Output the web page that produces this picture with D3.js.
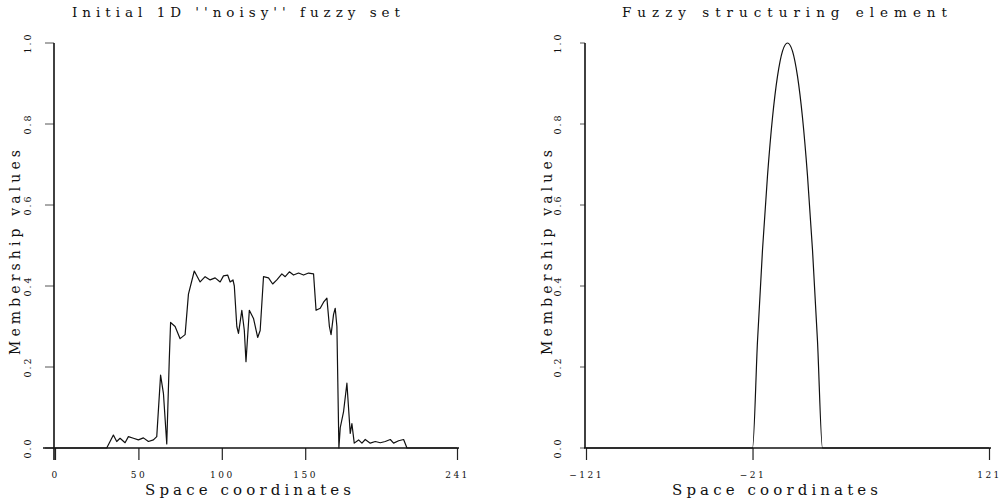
<!DOCTYPE html>
<html>
<head>
<meta charset="utf-8">
<script src="https://cdn.jsdelivr.net/npm/d3@7/dist/d3.min.js"></script>
<style>
  html, body { margin: 0; padding: 0; background: #fff; }
  svg { display: block; }
  text { font-family: "DejaVu Serif", "Liberation Serif", serif; fill: #111; }
</style>
</head>
<body>
<svg id="chart" width="1002" height="503"></svg>
<script>
// ---------------- DATA ----------------
const noisyX = [0,31,35,37,39,42,44,47,50,53,56,59,61,63.3,65,67,68.5,69.3,72,75,78,80,83.5,87,90,93,96,99,101,103.5,105,106.7,107.5,109,110,112,113.5,114.5,116.5,119,121.5,123,125,128,130.5,133,136,138,140.5,143,146,149,152,155,156.5,159,161,163,164.5,165.5,167,168,169,170.2,171,173,175,177,178,179.4,182,184,186,189,192,195,198,201,203,206,209,211,241];
const noisyY = [0,0,0.032,0.016,0.024,0.013,0.028,0.024,0.02,0.025,0.016,0.02,0.028,0.18,0.135,0.01,0.217,0.31,0.30,0.27,0.28,0.38,0.437,0.41,0.423,0.415,0.42,0.41,0.425,0.427,0.41,0.415,0.40,0.30,0.283,0.34,0.29,0.213,0.34,0.32,0.273,0.29,0.423,0.42,0.405,0.415,0.43,0.423,0.435,0.427,0.432,0.427,0.432,0.43,0.34,0.345,0.36,0.37,0.30,0.28,0.33,0.345,0.30,0.0,0.05,0.09,0.16,0.036,0.06,0.012,0.02,0.012,0.021,0.012,0.016,0.013,0.016,0.021,0.012,0.018,0.021,0,0];

const seX = [-121,-21,-18,-15,-12,-9,-6,-3,0,3,6,9,12,15,18,21,121];
const seY = [0,0,0.265,0.49,0.673,0.816,0.918,0.98,1,0.98,0.918,0.816,0.673,0.49,0.265,0,0];

const yTicks = [0.0,0.2,0.4,0.6,0.8,1.0];
const yTickLabels = ["0.0","0.2","0.4","0.6","0.8","1.0"];
const xTicksLeft = [0,50,100,150,241];
const xTicksRight = [-121,-21,121];

const titleLeft = "Initial 1D ''noisy'' fuzzy set";
const titleRight = "Fuzzy structuring element";
const xLabel = "Space coordinates";
const yLabel = "Membership values";

// ---------------- DRAW ----------------
const svg = d3.select("#chart");
const y = d3.scaleLinear().domain([0,1]).range([448,43]);

function panel(opts) {
  const g = svg.append("g");
  const x = opts.x;
  const [x0, x1] = x.range();

  // title
  g.append("text")
    .attr("x", opts.titleX).attr("y", 17)
    .attr("font-size", 13.5)
    .attr("textLength", opts.titleLen).attr("lengthAdjust", "spacing")
    .text(opts.title);

  // y axis label
  g.append("text")
    .attr("transform", `translate(${opts.yLabX},${355}) rotate(-90)`)
    .attr("font-size", 14)
    .attr("textLength", 205).attr("lengthAdjust", "spacing")
    .text(yLabel);

  // x axis label
  g.append("text")
    .attr("x", opts.xLabX).attr("y", 495)
    .attr("font-size", 15)
    .attr("textLength", 206).attr("lengthAdjust", "spacing")
    .text(xLabel);

  // y tick marks
  g.selectAll(".yt").data(yTicks).join("line")
    .attr("x1", x0 - 1).attr("x2", x0 - opts.yTickLen)
    .attr("y1", d => y(d)).attr("y2", d => y(d))
    .attr("stroke", "#555").attr("stroke-width", 1);

  // y tick labels (rotated)
  g.selectAll(".ytl").data(yTicks).join("text")
    .attr("transform", d => `translate(${opts.yTickLabX},${y(d)}) rotate(-90)`)
    .attr("text-anchor", "middle")
    .attr("font-size", 9.5)
    .attr("letter-spacing", 2)
    .text((d,i) => yTickLabels[i]);

  // x ticks
  const xAxis = d3.axisBottom(x).tickValues(opts.xTicks).tickSize(12).tickPadding(12).tickFormat(d3.format("d"));
  const ax = g.append("g").attr("transform", "translate(0,448)").call(xAxis);
  ax.select(".domain").remove();
  ax.selectAll(".tick line").attr("stroke", "#222").attr("stroke-width", 1.2);
  ax.selectAll(".tick text").attr("font-size", 9).attr("letter-spacing", 2.5)
    .attr("font-family", "DejaVu Serif, serif").attr("fill", "#111");

  // axis lines
  g.append("line").attr("x1", x0 - 1).attr("x2", x0 - 1).attr("y1", y(1)).attr("y2", y(0) + opts.yAxisExt)
    .attr("stroke", "#111").attr("stroke-width", 1.6);
  g.append("line").attr("x1", x0 - opts.xAxisExtL).attr("x2", x1 + 2).attr("y1", y(0)).attr("y2", y(0))
    .attr("stroke", "#111").attr("stroke-width", 1.6);

  // data line
  const line = d3.line().x(d => x(d[0])).y(d => y(d[1])).curve(opts.curve);
  g.append("path")
    .datum(opts.xs.map((v,i) => [v, opts.ys[i]]))
    .attr("d", line)
    .attr("fill", "none").attr("stroke", "#111").attr("stroke-width", 1.2)
    .attr("stroke-linejoin", "round");
}

panel({
  x: d3.scaleLinear().domain([0,241]).range([55,457]),
  title: titleLeft, titleX: 72, titleLen: 328,
  yLabX: 20, xLabX: 145, yTickLabX: 31,
  yTickLen: 10, yAxisExt: 12, xAxisExtL: 12,
  xTicks: xTicksLeft, xs: noisyX, ys: noisyY, curve: d3.curveLinear
});

panel({
  x: d3.scaleLinear().domain([-121,121]).range([586,989]),
  title: titleRight, titleX: 622, titleLen: 325,
  yLabX: 552, xLabX: 672, yTickLabX: 561,
  yTickLen: 6, yAxisExt: 0, xAxisExtL: 2,
  xTicks: xTicksRight, xs: seX, ys: seY, curve: d3.curveMonotoneX
});
</script>
</body>
</html>
